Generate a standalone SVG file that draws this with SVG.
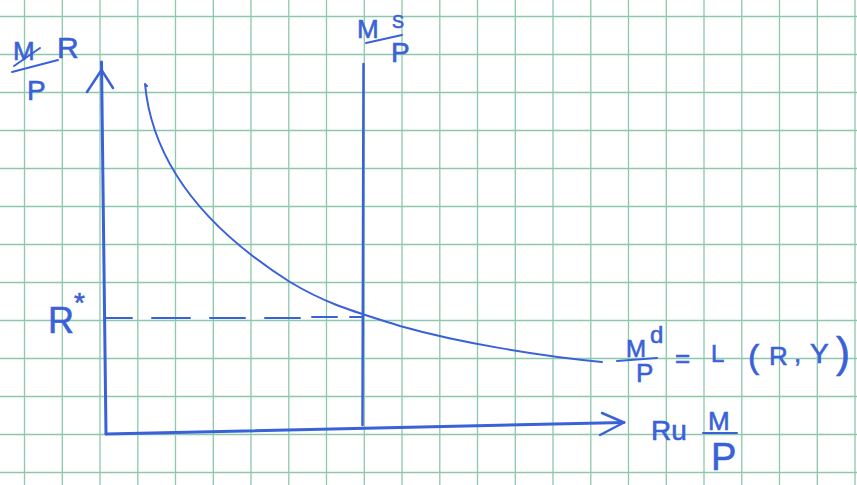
<svg xmlns="http://www.w3.org/2000/svg" width="857" height="485" viewBox="0 0 857 485">
<defs>
<style>
.grid line{stroke:#8cc8aa;stroke-width:1.3}
.ink{stroke:#3a62d8;fill:none;stroke-linecap:round;stroke-linejoin:round}
.t{fill:#3a62d8;stroke:#3a62d8;stroke-width:0.6;font-family:"Liberation Sans","DejaVu Sans",sans-serif}
</style>
</defs>
<rect width="857" height="485" fill="#ffffff"/>
<g id="grid" class="grid">
<line x1="24.5" y1="0" x2="24.5" y2="485"/><line x1="62.3" y1="0" x2="62.3" y2="485"/><line x1="100" y1="0" x2="100" y2="485"/><line x1="137.8" y1="0" x2="137.8" y2="485"/><line x1="175.5" y1="0" x2="175.5" y2="485"/><line x1="213.3" y1="0" x2="213.3" y2="485"/><line x1="251" y1="0" x2="251" y2="485"/><line x1="288.8" y1="0" x2="288.8" y2="485"/><line x1="326.5" y1="0" x2="326.5" y2="485"/><line x1="364.3" y1="0" x2="364.3" y2="485"/><line x1="402" y1="0" x2="402" y2="485"/><line x1="439.8" y1="0" x2="439.8" y2="485"/><line x1="477.5" y1="0" x2="477.5" y2="485"/><line x1="515.3" y1="0" x2="515.3" y2="485"/><line x1="553" y1="0" x2="553" y2="485"/><line x1="590.8" y1="0" x2="590.8" y2="485"/><line x1="628.5" y1="0" x2="628.5" y2="485"/><line x1="666.3" y1="0" x2="666.3" y2="485"/><line x1="704" y1="0" x2="704" y2="485"/><line x1="741.8" y1="0" x2="741.8" y2="485"/><line x1="779.5" y1="0" x2="779.5" y2="485"/><line x1="817.3" y1="0" x2="817.3" y2="485"/><line x1="855" y1="0" x2="855" y2="485"/>
<line x1="0" y1="16.5" x2="857" y2="16.5"/><line x1="0" y1="54.5" x2="857" y2="54.5"/><line x1="0" y1="92.5" x2="857" y2="92.5"/><line x1="0" y1="130.5" x2="857" y2="130.5"/><line x1="0" y1="168.5" x2="857" y2="168.5"/><line x1="0" y1="206.5" x2="857" y2="206.5"/><line x1="0" y1="244.5" x2="857" y2="244.5"/><line x1="0" y1="282.5" x2="857" y2="282.5"/><line x1="0" y1="320.5" x2="857" y2="320.5"/><line x1="0" y1="358.5" x2="857" y2="358.5"/><line x1="0" y1="396.5" x2="857" y2="396.5"/><line x1="0" y1="434.5" x2="857" y2="434.5"/><line x1="0" y1="472.5" x2="857" y2="472.5"/>
</g>
<g id="connectors">
<path id="y-axis" class="ink" stroke-width="3" d="M101.5,62 L106,434"/>
<path id="y-arrow" class="ink" stroke-width="2.5" d="M87,92 L101.5,70 L113,88"/>
<path id="x-axis" class="ink" stroke-width="3" d="M106,434 L624,422.5"/>
<path id="x-arrow" class="ink" stroke-width="2.5" d="M602,413 L624,422.5 L600,435"/>
<path id="ms-line" class="ink" stroke-width="2.5" d="M363.5,64 L362.5,425"/>
<path id="md-curve" class="ink" stroke-width="2" d="M147,86 L145,84 C152,160 200,225 290,282 C330,306 360,313 400,326 C460,343 540,356 602,362"/>
<path id="r-dash" class="ink" stroke-width="2" d="M104,318 L132,318 M152,318 L190,318 M210,318 L245,318 M265,318 L300,318 M312,317 L337,317 M350,317 L362,317"/>
</g>
<g id="label-yaxis">
<text class="t" x="13" y="60" font-size="26">M</text>
<path class="ink" stroke-width="2" d="M12,72 L58,60 M14,66 L40,48"/>
<text class="t" x="27" y="100" font-size="28">P</text>
<text class="t" x="57" y="58" font-size="30">R</text>
</g>
<g id="label-ms">
<text class="t" x="357" y="38" font-size="26">M</text>
<text class="t" x="392" y="28" font-size="18">S</text>
<path class="ink" stroke-width="2" d="M366,43 L402,35"/>
<text class="t" x="391" y="62" font-size="28">P</text>
</g>
<g id="label-rstar">
<text class="t" x="48" y="333" font-size="36">R</text>
<text class="t" x="74" y="312" font-size="28">*</text>
</g>
<g id="label-md">
<text class="t" x="626" y="357" font-size="24">M</text>
<text class="t" x="650" y="343" font-size="24">d</text>
<path class="ink" stroke-width="2" d="M617,361 L657,358"/>
<text class="t" x="636" y="382" font-size="26">P</text>
<text class="t" x="675" y="367" font-size="26">=</text>
<text class="t" x="711" y="362" font-size="24">L</text>
<text class="t" x="748" y="368" font-size="34">(</text>
<text class="t" x="769" y="365" font-size="26">R</text>
<text class="t" x="794" y="362" font-size="26">,</text>
<text class="t" x="810" y="363" font-size="28">Y</text>
<text class="t" x="836" y="367" font-size="42">)</text>
</g>
<g id="label-xaxis">
<text class="t" x="651" y="440" font-size="28">Ru</text>
<text class="t" x="708" y="430" font-size="26">M</text>
<path class="ink" stroke-width="2" d="M703,433 L737,433"/>
<text class="t" x="711" y="470" font-size="38">P</text>
</g>
</svg>
